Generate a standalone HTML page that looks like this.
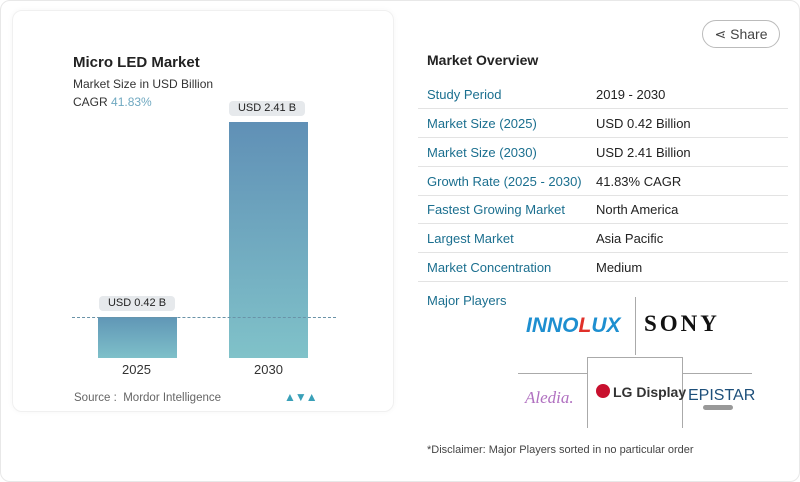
<!DOCTYPE html>
<html><head><style>
body{margin:0;width:800px;height:482px;background:#fff;font-family:"Liberation Sans",sans-serif;position:relative;overflow:hidden}
.a{position:absolute;white-space:nowrap}
.row{position:absolute;left:418px;width:370px;height:28px;border-bottom:1px solid #e3e3e3}
.row .l{position:absolute;left:9px;top:7px;font-size:13px;color:#1b6f8f}
.row .v{position:absolute;left:178px;top:7px;font-size:13px;color:#222}
.pill{position:absolute;background:#e6e9ec;border-radius:4px;font-size:11px;color:#222;text-align:center;height:15px;line-height:15px}
</style></head><body>
<div class="a" style="left:0;top:0;width:798px;height:480px;border:1px solid #e8e8e8;border-radius:10px"></div>
<div class="a" style="left:12px;top:10px;width:380px;height:400px;border:1px solid #f0f0f0;border-radius:10px;box-shadow:0 0 6px rgba(0,0,0,0.04)"></div>
<div class="a" style="left:73px;top:54px;font-size:15px;font-weight:bold;color:#222">Micro LED Market</div>
<div class="a" style="left:73px;top:77px;font-size:12px;color:#333">Market Size in USD Billion</div>
<div class="a" style="left:73px;top:95px;font-size:12px;color:#333">CAGR <span style="color:#6fa8c0">41.83%</span></div>
<div class="a" style="left:98px;top:317px;width:79px;height:41px;background:linear-gradient(#6096b6,#7ec0c9)"></div>
<div class="a" style="left:229px;top:122px;width:79px;height:236px;background:linear-gradient(#6090b6,#80c2c9)"></div>
<div class="a" style="left:72px;top:317px;width:264px;border-top:1px dashed #6a93a8"></div>
<div class="pill" style="left:99px;top:296px;width:76px">USD 0.42 B</div>
<div class="pill" style="left:229px;top:101px;width:76px">USD 2.41 B</div>
<div class="a" style="left:122px;top:362px;font-size:13px;color:#333">2025</div>
<div class="a" style="left:254px;top:362px;font-size:13px;color:#333">2030</div>
<div class="a" style="left:74px;top:392px;font-size:11.5px;color:#666">Source :&nbsp; Mordor Intelligence</div>
<div class="a" style="left:284px;top:390px;font-size:12px;font-weight:bold;color:#3aa0b8;letter-spacing:-1px">▲▼▲</div>
<div class="a" style="left:702px;top:20px;width:76px;height:26px;border:1px solid #bbb;border-radius:14px;font-size:14px;color:#444;line-height:26px;text-align:center">⋖ Share</div>
<div class="a" style="left:427px;top:52px;font-size:14px;font-weight:bold;color:#222">Market Overview</div>
<div class="row" style="top:80px"><span class="l">Study Period</span><span class="v">2019 - 2030</span></div>
<div class="row" style="top:109px"><span class="l">Market Size (2025)</span><span class="v">USD 0.42 Billion</span></div>
<div class="row" style="top:138px"><span class="l">Market Size (2030)</span><span class="v">USD 2.41 Billion</span></div>
<div class="row" style="top:167px"><span class="l">Growth Rate (2025 - 2030)</span><span class="v">41.83% CAGR</span></div>
<div class="row" style="top:195px"><span class="l">Fastest Growing Market</span><span class="v">North America</span></div>
<div class="row" style="top:224px"><span class="l">Largest Market</span><span class="v">Asia Pacific</span></div>
<div class="row" style="top:253px"><span class="l">Market Concentration</span><span class="v">Medium</span></div>
<div class="a" style="left:427px;top:293px;font-size:13px;color:#1b6f8f">Major Players</div>
<div class="a" style="left:635px;top:297px;height:58px;border-left:1px solid #aaa"></div>
<div class="a" style="left:518px;top:373px;width:234px;border-top:1px solid #aaa"></div>
<div class="a" style="left:587px;top:357px;width:94px;height:70px;border:1px solid #aaa;border-bottom:none;background:#fff"></div>
<div class="a" style="left:526px;top:314px;font-size:21px;font-weight:bold;font-style:italic;color:#1e8fd0">INNO<span style="color:#e0302a">L</span>UX</div>
<div class="a" style="left:644px;top:311px;font-size:23px;font-weight:bold;font-family:'Liberation Serif',serif;color:#111;letter-spacing:3px">SONY</div>
<div class="a" style="left:525px;top:388px;font-size:17px;font-style:italic;font-family:'Liberation Serif',serif;color:#b070c0">Aledia.</div>
<div class="a" style="left:596px;top:384px;width:14px;height:14px;border-radius:50%;background:#c8102e"></div>
<div class="a" style="left:613px;top:384px;font-size:14px;font-weight:bold;color:#333">LG Display</div>
<div class="a" style="left:688px;top:387px;font-size:16px;color:#1d4f7a">EPISTAR</div>
<div class="a" style="left:703px;top:405px;width:30px;height:5px;background:#999;border-radius:3px"></div>
<div class="a" style="left:427px;top:444px;font-size:11px;color:#444">*Disclaimer: Major Players sorted in no particular order</div>
</body></html>
